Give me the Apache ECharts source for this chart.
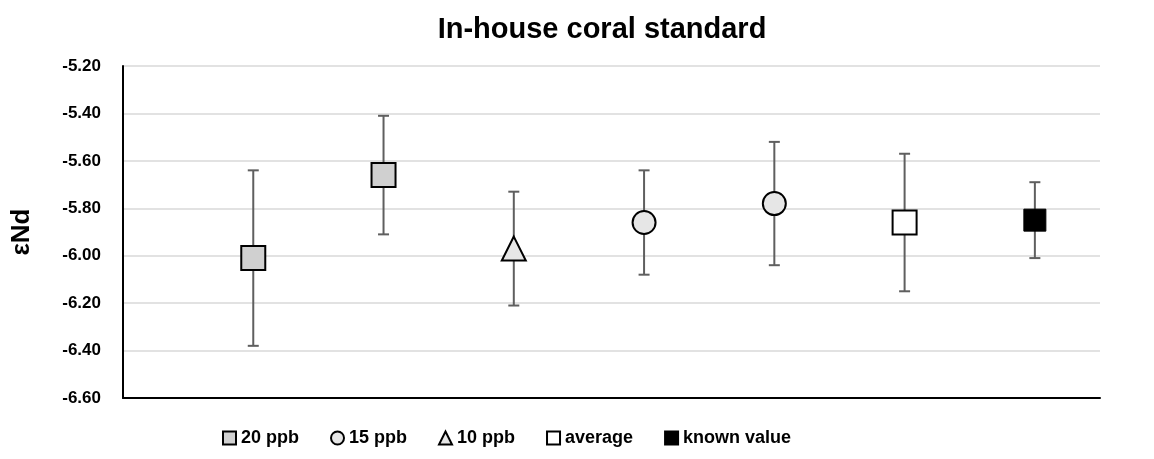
<!DOCTYPE html>
<html>
<head>
<meta charset="utf-8">
<script src="https://cdn.jsdelivr.net/npm/echarts@6/dist/echarts.min.js"></script>
<style>
  html, body { margin: 0; padding: 0; background: #ffffff; }
  #chart { width: 1154px; height: 459px; }
</style>
</head>
<body>
<div id="chart"></div>
<script>
// Measurement positions along the (unlabelled) x axis
const slots = [1, 2, 3, 4, 5, 6, 7];
// Which concentration group each measurement belongs to
const pointGroup = ['20 ppb', '20 ppb', '10 ppb', '15 ppb', '15 ppb', 'average', 'known value'];
// εNd mean values and 2σ uncertainties
const means  = [-6.01, -5.66, -5.97, -5.86, -5.78, -5.86, -5.85];
const errors = [0.37, 0.25, 0.24, 0.22, 0.26, 0.29, 0.16];
// Legend entries in display order
const legendNames = ['20 ppb', '15 ppb', '10 ppb', 'average', 'known value'];
// Axis ranges
const yMin = -6.6, yMax = -5.2, yStep = 0.2;
const xMin = 0, xMax = 7.5;

const FONT = "'Liberation Sans', Arial, sans-serif";

const markerLook = {
  '20 ppb':      { symbol: 'rect',     size: 24, fill: '#d0d0d0', border: '#000000', bw: 2 },
  '15 ppb':      { symbol: 'circle',   size: 23, fill: '#e6e6e6', border: '#000000', bw: 2 },
  '10 ppb':      { symbol: 'triangle', size: 24, fill: '#e6e6e6', border: '#000000', bw: 2 },
  'average':     { symbol: 'rect',     size: 24, fill: '#ffffff', border: '#000000', bw: 2 },
  'known value': { symbol: 'rect',     size: 22, fill: '#000000', border: '#000000', bw: 1 }
};

const pointSeries = legendNames.map(name => {
  const look = markerLook[name];
  const data = [];
  pointGroup.forEach((g, i) => { if (g === name) data.push([slots[i], means[i]]); });
  return {
    name: name,
    type: 'scatter',
    data: data,
    symbol: look.symbol,
    symbolSize: look.size,
    itemStyle: { color: look.fill, borderColor: look.border, borderWidth: look.bw, opacity: 1 },
    emphasis: { disabled: true },
    z: 5
  };
});

const errorSeries = {
  name: 'error',
  type: 'custom',
  data: means.map((m, i) => [slots[i], m, errors[i]]),
  renderItem: function (params, api) {
    const x = api.value(0), m = api.value(1), e = api.value(2);
    const top = api.coord([x, m + e]);
    const bot = api.coord([x, m - e]);
    const half = 5.5;
    const style = { stroke: '#5f5f5f', lineWidth: 2 };
    return {
      type: 'group',
      children: [
        { type: 'line', shape: { x1: top[0], y1: top[1], x2: bot[0], y2: bot[1] }, style: style },
        { type: 'line', shape: { x1: top[0] - half, y1: top[1], x2: top[0] + half, y2: top[1] }, style: style },
        { type: 'line', shape: { x1: bot[0] - half, y1: bot[1], x2: bot[0] + half, y2: bot[1] }, style: style }
      ]
    };
  },
  z: 2,
  silent: true
};

const chart = echarts.init(document.getElementById('chart'), null, { renderer: 'canvas' });
chart.setOption({
  animation: false,
  backgroundColor: '#ffffff',
  title: {
    text: 'In-house coral standard',
    left: 597,
    textAlign: 'center',
    top: 10,
    textStyle: { fontFamily: FONT, fontWeight: 'bold', fontSize: 29, color: '#000000' }
  },
  legend: {
    data: legendNames,
    left: 217,
    top: 424,
    itemWidth: 13,
    itemHeight: 13,
    itemGap: 31,
    textStyle: { fontFamily: FONT, fontWeight: 'bold', fontSize: 18, color: '#000000' },
    selectedMode: false
  },
  grid: { left: 123, right: 54, top: 66, bottom: 61, containLabel: false, outerBoundsMode: 'none' },
  xAxis: {
    type: 'value',
    min: xMin,
    max: xMax,
    axisLine: { show: true, onZero: false, lineStyle: { color: '#000000', width: 2 } },
    axisTick: { show: false },
    axisLabel: { show: false },
    splitLine: { show: false }
  },
  yAxis: {
    type: 'value',
    min: yMin,
    max: yMax,
    interval: yStep,
    name: 'εNd',
    nameLocation: 'middle',
    nameRotate: 90,
    nameGap: 88,
    nameTextStyle: { fontFamily: FONT, fontWeight: 'bold', fontSize: 26, color: '#000000' },
    axisLine: { show: true, onZero: false, lineStyle: { color: '#000000', width: 2 } },
    axisTick: { show: false },
    axisLabel: {
      margin: 22,
      fontFamily: FONT, fontWeight: 'bold', fontSize: 17, color: '#000000',
      formatter: v => v.toFixed(2)
    },
    splitLine: { show: true, lineStyle: { color: '#d9d9d9', width: 1.5 } }
  },
  series: [errorSeries].concat(pointSeries)
});
</script>
</body>
</html>
